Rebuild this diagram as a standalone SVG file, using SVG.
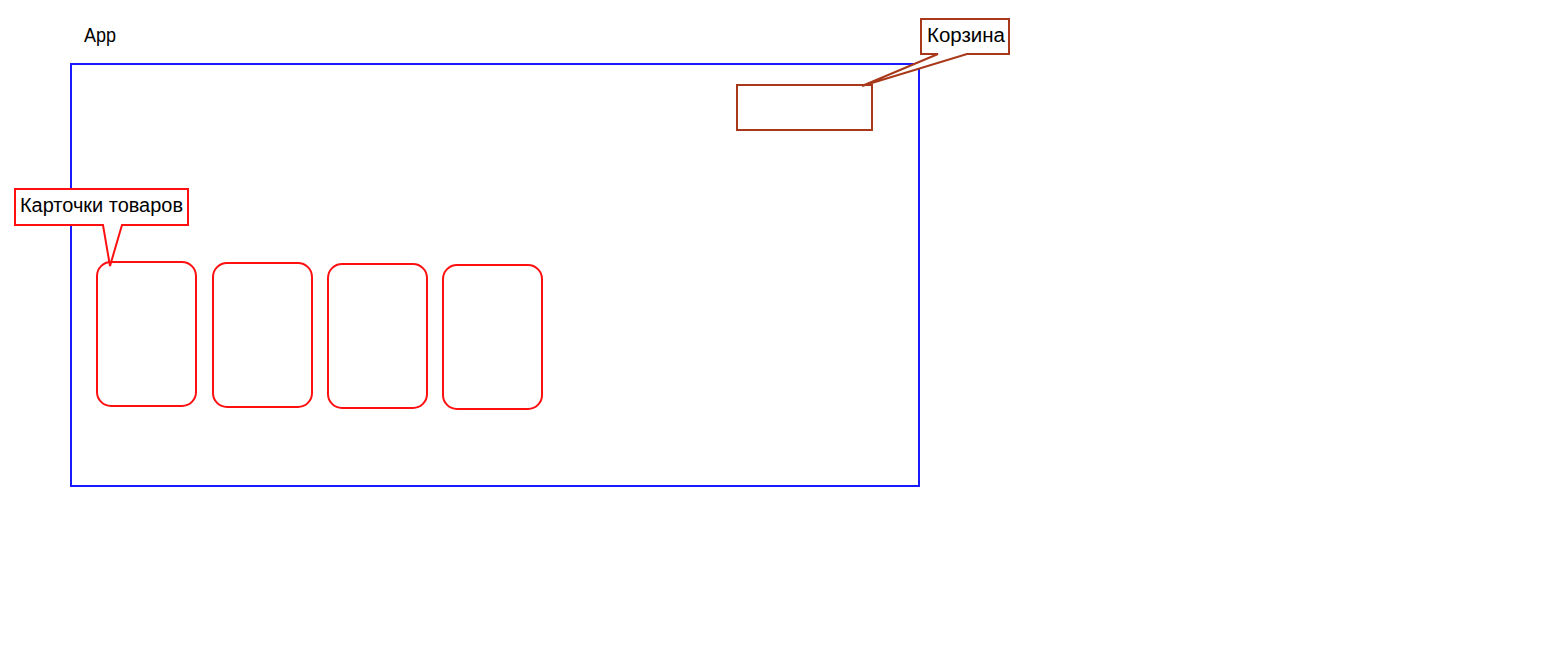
<svg xmlns="http://www.w3.org/2000/svg" width="1565" height="658" viewBox="0 0 1565 658">
  <style>
    .lbl { font-family: "Liberation Sans", Arial, sans-serif; font-size: 20px; fill: #000; }
    .app { fill: none; stroke: #1a1aff; stroke-width: 2; }
    .card { fill: #fff; stroke: #ff1010; stroke-width: 2; }
    .callout-red { fill: #fff; stroke: #ff1010; stroke-width: 2; stroke-linejoin: miter; }
    .cart { fill: #fff; stroke: #a8381a; stroke-width: 2; }
    .callout-brown { fill: #fff; stroke: #a8381a; stroke-width: 2; }
  </style>
  <rect width="1565" height="658" fill="#fff"/>

  <g id="app">
    <text class="lbl" x="84" y="42" textLength="32" lengthAdjust="spacingAndGlyphs">App</text>
    <rect class="app" x="71" y="64" width="848" height="422"/>
  </g>

  <g id="cart">
    <rect class="cart" x="737" y="85" width="135" height="45"/>
  </g>

  <g id="cards">
    <rect class="card" x="97" y="262" width="99" height="144" rx="14"/>
    <rect class="card" x="213" y="263" width="99" height="144" rx="14"/>
    <rect class="card" x="328" y="264" width="99" height="144" rx="14"/>
    <rect class="card" x="443" y="265" width="99" height="144" rx="14"/>
  </g>

  <g id="connectors">
    <!-- callout pointing at the first product card -->
    <path class="callout-red" d="M15,189 H188 V225 H122 L110,266 L103,225 H15 Z"/>
    <!-- callout pointing at the cart -->
    <path class="callout-brown" d="M921,19 H1009 V54 H967 L862,86 L938,54 H921 Z"/>
  </g>

  <g id="label-cards">
    <text class="lbl" x="101.5" y="212" text-anchor="middle" textLength="163" lengthAdjust="spacingAndGlyphs">Карточки товаров</text>
  </g>
  <g id="label-cart">
    <text class="lbl" x="966" y="42" text-anchor="middle" textLength="78" lengthAdjust="spacingAndGlyphs">Корзина</text>
  </g>
</svg>
